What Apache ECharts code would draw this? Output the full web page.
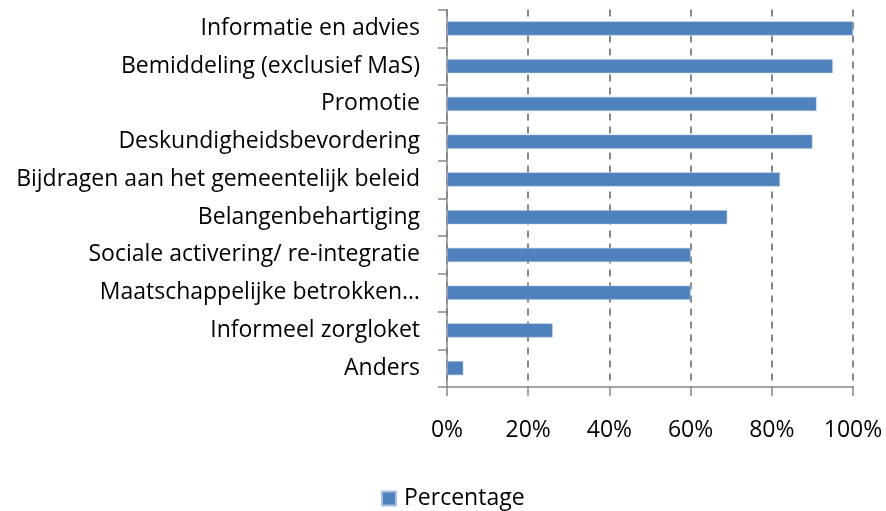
<!DOCTYPE html>
<html>
<head>
<meta charset="utf-8">
<script src="https://cdn.jsdelivr.net/npm/echarts@6/dist/echarts.min.js"></script>
<style>
  html, body { margin: 0; padding: 0; background: #fff; }
  #chart { width: 886px; height: 511px; }
</style>
</head>
<body>
<div id="chart"></div>
<script>
const categories = [
  "Informatie en advies",
  "Bemiddeling (exclusief MaS)",
  "Promotie",
  "Deskundigheidsbevordering",
  "Bijdragen aan het gemeentelijk beleid",
  "Belangenbehartiging",
  "Sociale activering/ re-integratie",
  "Maatschappelijke betrokken…",
  "Informeel zorgloket",
  "Anders"
];
const percentage = [100, 95, 91, 90, 82, 69, 60, 60, 26, 4];
const seriesName = "Percentage";
const xTicks = [0, 20, 40, 60, 80, 100];

const FONT = "Open Sans";
const chart = echarts.init(document.getElementById('chart'), null, { renderer: 'canvas' });
chart.setOption({
  animation: false,
  backgroundColor: '#ffffff',
  grid: { left: 447, right: 33, top: 9.5, bottom: 124, containLabel: false },
  legend: {
    data: [seriesName],
    left: 381,
    top: 487,
    padding: 0,
    itemWidth: 14,
    itemHeight: 14,
    icon: 'rect',
    textStyle: { fontFamily: FONT, fontSize: 23, color: '#000', padding: [0, 0, 0, 3] }
  },
  xAxis: {
    type: 'value',
    min: xTicks[0],
    max: xTicks[xTicks.length - 1],
    interval: 20,
    axisLine: { show: true, lineStyle: { color: '#878787', width: 1.5 } },
    axisTick: { show: true, length: 9, lineStyle: { color: '#878787', width: 1.5 } },
    axisLabel: {
      margin: 32,
      fontFamily: FONT, fontSize: 23, color: '#000',
      formatter: v => v + '%'
    },
    splitLine: { show: true, lineStyle: { color: '#878787', width: 2, type: [7, 6] } }
  },
  yAxis: {
    type: 'category',
    inverse: true,
    data: categories,
    axisLine: { show: true, lineStyle: { color: '#878787', width: 1.5 } },
    axisTick: { show: true, length: 9, lineStyle: { color: '#878787', width: 1.5 } },
    axisLabel: { margin: 27, fontFamily: FONT, fontSize: 23, color: '#000' },
    splitLine: { show: false }
  },
  series: [{
    name: seriesName,
    type: 'bar',
    data: percentage,
    barWidth: 14,
    itemStyle: { color: '#4f81bd', borderColor: '#a9c1e0', borderWidth: 0.5 }
  }]
});
</script>
</body>
</html>
